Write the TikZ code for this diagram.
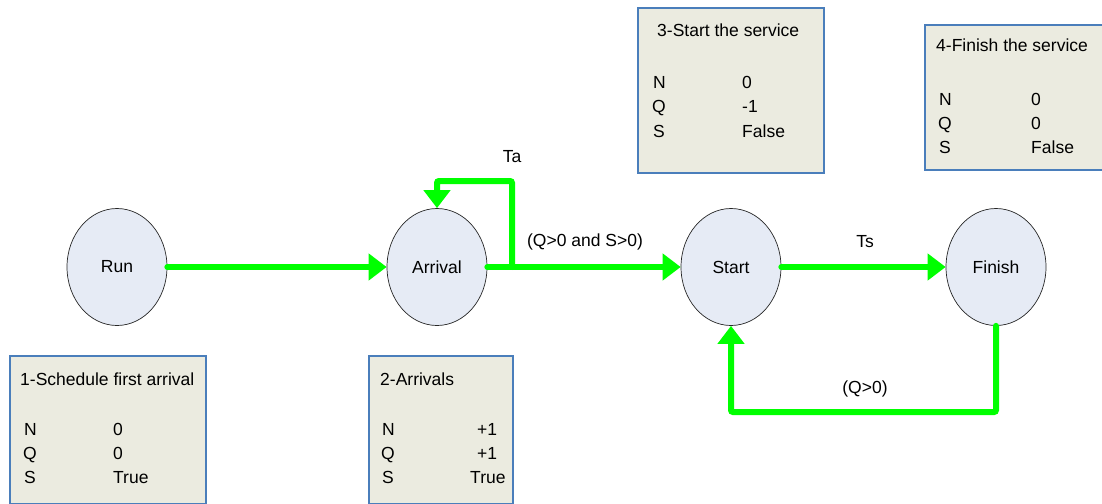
\documentclass[tikz,border=0pt]{standalone}
\usepackage{fontspec}
\setmainfont{Liberation Sans}
\usetikzlibrary{shapes.geometric,arrows.meta,calc}
\definecolor{ellfill}{HTML}{E6EBF5}
\definecolor{boxfill}{HTML}{EBEBE0}
\definecolor{boxline}{HTML}{4A7EBB}
\definecolor{flow}{HTML}{00FF00}
\begin{document}
\begin{tikzpicture}[x=1pt,y=-1pt,
  every node/.style={font=\fontsize{17.5}{21}\selectfont, inner sep=0pt},
  state/.style={ellipse, draw=black!85, line width=0.7pt, fill=ellfill, minimum width=100pt, minimum height=117pt},
  infobox/.style={rectangle, draw=boxline, line width=2pt, fill=boxfill, anchor=north west},
  txt/.style={anchor=base west},
  flowline/.style={draw=flow, line width=6pt, line cap=round, rounded corners=2pt, -{Triangle[length=18pt,width=26pt]}},
  lbl/.style={anchor=center}
]
\useasboundingbox (0,0) rectangle (1102,503);

% info boxes
\node[infobox, minimum width=196pt, minimum height=148pt] (b1) at (9,355) {};
\node[infobox, minimum width=144pt, minimum height=148pt] (b2) at (368,355) {};
\node[infobox, minimum width=186pt, minimum height=165pt] (b3) at (637,7) {};
\node[infobox, minimum width=230pt, minimum height=145pt] (b4) at (924,24) {};

% box 1 text
\node[txt] (t1) at (20,385) {1-Schedule first arrival};
\node[txt] (n1) at (24,435) {N};
\node[txt] (q1) at (23,459) {Q};
\node[txt] (s1) at (24,483) {S};
\node[txt] (nv1) at (113,435) {0};
\node[txt] (qv1) at (113,459) {0};
\node[txt] (sv1) at (113,483) {True};

% box 2 text
\node[txt] (t2) at (380,385) {2-Arrivals};
\node[txt] (n2) at (382,435) {N};
\node[txt] (q2) at (381,459) {Q};
\node[txt] (s2) at (382,483) {S};
\node[txt] (nv2) at (477,435) {+1};
\node[txt] (qv2) at (477,459) {+1};
\node[txt] (sv2) at (470,483) {True};

% box 3 text
\node[txt] (t3) at (657,37) {3-Start the service};
\node[txt] (n3) at (653,88) {N};
\node[txt] (q3) at (652,112) {Q};
\node[txt] (s3) at (653,137) {S};
\node[txt] (nv3) at (742,88) {0};
\node[txt] (qv3) at (742,112) {-1};
\node[txt] (sv3) at (742,137) {False};

% box 4 text
\node[txt] (t4) at (936,52) {4-Finish the service};
\node[txt] (n4) at (939,105) {N};
\node[txt] (q4) at (938,129) {Q};
\node[txt] (s4) at (939,153) {S};
\node[txt] (nv4) at (1031,105) {0};
\node[txt] (qv4) at (1031,129) {0};
\node[txt] (sv4) at (1031,153) {False};

% states
\node[state] (run) at (117,267) {Run};
\node[state] (arr) at (437,267) {Arrival};
\node[state] (start) at (731,267) {Start};
\node[state] (fin) at (996,267) {Finish};

% labels
\node[lbl] (ta) at (512,157) {Ta};
\node[lbl] (qs) at (585,242) {(Q>0 and S>0)};
\node[lbl] (ts) at (865,242) {Ts};
\node[lbl] (q0) at (865,389) {(Q>0)};

% connectors
\coordinate (branch) at (512,267);
\draw[flowline] (run.east) -- (arr.west);
\draw[flowline] (arr.east) -- (start.west);
\draw[flowline] (branch) -- (512,181) -- (arr.north |- 0,181) -- (arr.north);
\draw[flowline] (start.east) -- (fin.west);
\draw[flowline] (fin.south) -- (fin.south |- 0,412) -| (start.south);
\end{tikzpicture}
\end{document}
